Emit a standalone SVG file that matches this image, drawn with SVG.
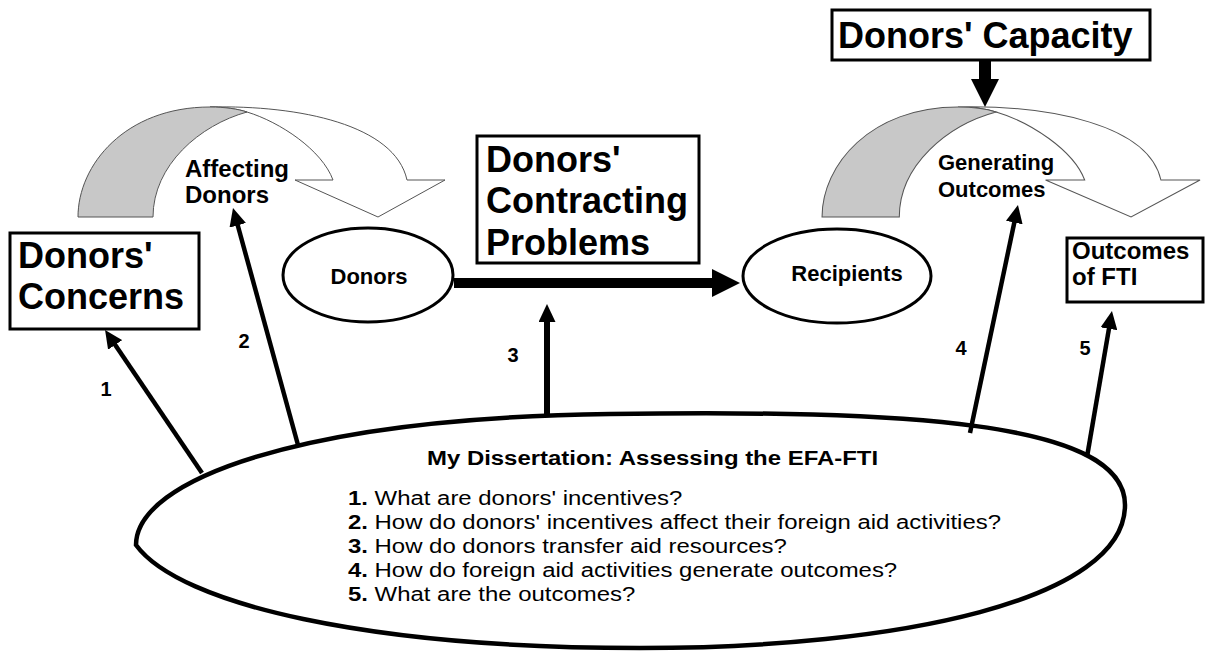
<svg xmlns="http://www.w3.org/2000/svg" width="1208" height="652" viewBox="0 0 1208 652">
  <style>
    .box { fill: #fff; stroke: #000; stroke-width: 3; }
    .oval { fill: #fff; stroke: #000; stroke-width: 3; }
    .big { fill: #fff; stroke: #000; stroke-width: 4.5; }
    .conn { fill: none; stroke: #000; stroke-width: 4.5; }
    .thick { stroke-width: 6; }
    .bar { fill: none; stroke: #000; }
    .band { fill: #fff; stroke: #555; stroke-width: 1; }
    .shade { fill: #c8c8c8; stroke: #555; stroke-width: 1; }
    text { font-family: "Liberation Sans", Arial, Helvetica, sans-serif; fill: #000; }
    .t36 { font-size: 36px; font-weight: bold; }
    .t24 { font-size: 24px; font-weight: bold; }
    .t22 { font-size: 22px; font-weight: bold; }
    .num { font-size: 20px; font-weight: bold; text-anchor: middle; }
    .q { font-size: 21px; }
    .b { font-weight: bold; }
  </style>
  <defs>
    <marker id="head" markerUnits="userSpaceOnUse" markerWidth="18" markerHeight="17" refX="4" refY="8.5" orient="auto">
      <path d="M0,0 L18,8.5 L0,17 z" fill="#000"/>
    </marker>
    <marker id="head-lg" markerUnits="userSpaceOnUse" markerWidth="28" markerHeight="28" refX="2" refY="14" orient="auto">
      <path d="M0,0 L28,14 L0,28 z" fill="#000"/>
    </marker>
    <!-- curved "bend" arrow: white front band with arrowhead, shaded back leg -->
    <g id="bend">
      <path class="band" d="M247,112 C280,122 322,150 333,180 L295,180 L378,217 L445,180 L407,180 C395,125 300,105 210,107 C225,107 238,109 247,112 Z"/>
      <path class="shade" d="M78,217 C78,165 125,107 210,107 C225,107 238,109 247,112 C200,125 153,165 153,217 Z"/>
    </g>
  </defs>

  <!-- curved process arrows -->
  <g id="affecting-donors">
    <use href="#bend"/>
    <text class="t24" x="185" y="177">Affecting</text>
    <text class="t24" x="185" y="203">Donors</text>
  </g>
  <g id="generating-outcomes">
    <use href="#bend" transform="translate(741.7,0) scale(1.03,1)"/>
    <text class="t22" x="938" y="170">Generating</text>
    <text class="t22" x="938" y="197">Outcomes</text>
  </g>

  <!-- boxes -->
  <g id="donors-capacity">
    <rect class="box" x="832" y="10" width="318" height="50"/>
    <text class="t36" x="838" y="48">Donors' Capacity</text>
  </g>
  <g id="donors-concerns">
    <rect class="box" x="10" y="233" width="189" height="96"/>
    <text class="t36" x="18" y="268">Donors'</text>
    <text class="t36" x="18" y="309">Concerns</text>
  </g>
  <g id="contracting-problems">
    <rect class="box" x="477" y="136" width="222" height="127"/>
    <text class="t36" x="486" y="172">Donors'</text>
    <text class="t36" x="486" y="213">Contracting</text>
    <text class="t36" x="486" y="255">Problems</text>
  </g>
  <g id="outcomes-fti">
    <rect class="box" x="1067" y="238" width="136" height="64"/>
    <text class="t24" x="1072" y="259">Outcomes</text>
    <text class="t24" x="1072" y="285">of FTI</text>
  </g>

  <!-- actors -->
  <g id="donors">
    <ellipse class="oval" cx="368" cy="275" rx="85" ry="47"/>
    <text class="t22" x="369" y="284" text-anchor="middle">Donors</text>
  </g>
  <g id="recipients">
    <ellipse class="oval" cx="837" cy="276" rx="94" ry="47"/>
    <text class="t22" x="847" y="281" text-anchor="middle">Recipients</text>
  </g>

  <!-- dissertation questions -->
  <g id="dissertation">
    <path class="big" d="M136,545 C136,480 300,418 610,414 C900,410 1125,420 1125,505 C1125,600 900,648 640,648 C370,648 180,605 136,545 Z"/>
    <g transform="translate(427,0) scale(1.14,1)">
      <text class="q b" x="0" y="465">My Dissertation: Assessing the EFA-FTI</text>
    </g>
    <g transform="translate(348,0) scale(1.14,1)">
      <text class="q" x="0" y="505"><tspan class="b">1.</tspan> What are donors' incentives?</text>
      <text class="q" x="0" y="529"><tspan class="b">2.</tspan> How do donors' incentives affect their foreign aid activities?</text>
      <text class="q" x="0" y="553"><tspan class="b">3.</tspan> How do donors transfer aid resources?</text>
      <text class="q" x="0" y="577"><tspan class="b">4.</tspan> How do foreign aid activities generate outcomes?</text>
      <text class="q" x="0" y="601"><tspan class="b">5.</tspan> What are the outcomes?</text>
    </g>
  </g>

  <!-- connectors -->
  <g id="connectors">
    <line class="bar" x1="454" y1="283" x2="714" y2="283" stroke-width="10" marker-end="url(#head-lg)"/>
    <line class="bar" x1="985" y1="60" x2="985" y2="81" stroke-width="12" marker-end="url(#head-lg)"/>
    <line class="conn" x1="202" y1="473" x2="112.9" y2="341.6" marker-end="url(#head)"/>
    <line class="conn" x1="298" y1="445" x2="236.7" y2="221.5" marker-end="url(#head)"/>
    <line class="conn thick" x1="547" y1="416" x2="547" y2="318" marker-end="url(#head)"/>
    <line class="conn" x1="970" y1="433" x2="1015.1" y2="218.7" marker-end="url(#head)"/>
    <line class="conn" x1="1087" y1="457" x2="1109.6" y2="324.8" marker-end="url(#head)"/>
    <text class="num" x="106" y="396">1</text>
    <text class="num" x="244" y="348">2</text>
    <text class="num" x="513" y="362">3</text>
    <text class="num" x="961" y="355">4</text>
    <text class="num" x="1085" y="355">5</text>
  </g>
</svg>
